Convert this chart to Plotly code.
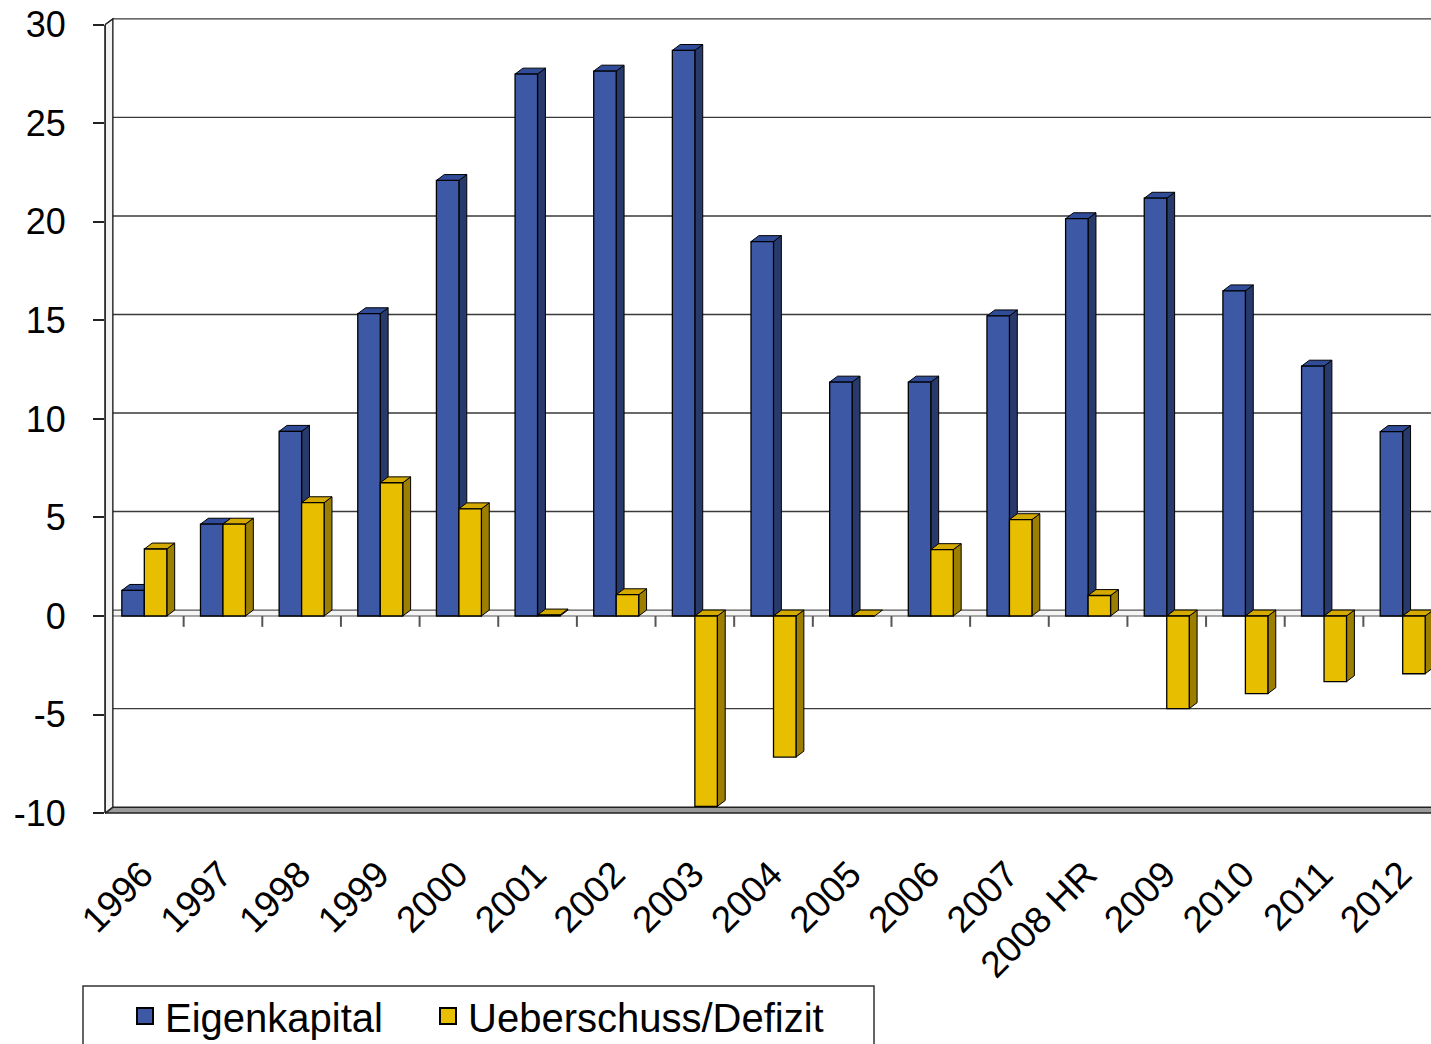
import plotly.graph_objects as go

# ---------------- data ----------------
years = ['1996', '1997', '1998', '1999', '2000', '2001', '2002', '2003', '2004',
         '2005', '2006', '2007', '2008 HR', '2009', '2010', '2011', '2012']
eigenkapital = [1.3, 4.66, 9.37, 15.34, 22.1, 27.5, 27.65, 28.7, 19.0,
                11.87, 11.87, 15.23, 20.16, 21.2, 16.5, 12.68, 9.36]
ueberschuss = [3.4, 4.66, 5.75, 6.76, 5.44, 0.05, 1.08, -9.66, -7.16,
               0.0, 3.37, 4.89, 1.04, -4.7, -3.94, -3.33, -2.93]
y_ticks = [-10, -5, 0, 5, 10, 15, 20, 25, 30]
series_names = ['Eigenkapital', 'Ueberschuss/Defizit']

# ---------------- style ----------------
FONT = 'Arial, "Liberation Sans", sans-serif'
BLUE_FRONT, BLUE_SIDE, BLUE_TOP = '#3D58A5', '#283A6C', '#304C98'
YEL_FRONT, YEL_SIDE, YEL_TOP = '#E8BE00', '#9C7E00', '#D4AA00'
W = 0.286            # bar width (category units)
DX, DY = 0.10, 0.30  # 3-D depth offset (x in category units, y in value units)
XMIN, XMAX = -0.5, 16.36
YMIN, YMAX = -10.2, 30.75
idx = list(range(len(years)))
PLOT_W = 1431 - 105
PLOT_H = 1044 - 10 - 227

fig = go.Figure()

fig.add_trace(go.Bar(x=idx, y=eigenkapital, width=W, offset=-W,
                     marker=dict(color=BLUE_FRONT, line=dict(color='black', width=1.3)),
                     name=series_names[0], showlegend=False))
fig.add_trace(go.Bar(x=idx, y=ueberschuss, width=W, offset=0,
                     marker=dict(color=YEL_FRONT, line=dict(color='black', width=1.3)),
                     name=series_names[1], showlegend=False))

# legend-only entries (bigger square swatches), one legend each
for nm, col, lg in zip(series_names, [BLUE_FRONT, YEL_FRONT], ['legend', 'legend2']):
    fig.add_trace(go.Scatter(x=[None], y=[None], mode='markers', name=nm, legend=lg,
                             marker=dict(symbol='square', size=16, color=col,
                                         line=dict(color='black', width=2))))

shapes = []

# back wall gridlines (with diagonal joint on the left wall)
for v in y_ticks:
    if v in (-10, 0):
        continue
    shapes.append(dict(type='path', xref='x', yref='y', layer='below',
                       path=f'M {XMIN},{v} L {XMIN+DX},{v+DY} L 17.5,{v+DY}',
                       line=dict(color='#3a3a3a', width=1.4)))
# zero plane
shapes.append(dict(type='path', xref='x', yref='y', layer='below',
                   path=f'M {XMIN},0 L 17.5,0 L 17.5,{DY} L {XMIN+DX},{DY} Z',
                   fillcolor='#f4f4f4', line=dict(color='#555555', width=1.2)))
# floor at -10
shapes.append(dict(type='path', xref='x', yref='y', layer='below',
                   path=f'M {XMIN},-10 L 17.5,-10 L 17.5,{-10+DY} L {XMIN+DX},{-10+DY} Z',
                   fillcolor='#9a9a9a', line=dict(color='#222222', width=1.5)))
# left wall
shapes.append(dict(type='path', xref='x', yref='y', layer='below',
                   path=f'M {XMIN},-10 L {XMIN},30 L {XMIN+DX},{30+DY} L {XMIN+DX},{-10+DY} Z',
                   fillcolor='#f2f2f2', line=dict(color='#222222', width=1.4)))


def faces(vals, left_off, side_col, top_col):
    out = []
    for i, v in enumerate(vals):
        x0 = i + left_off
        x1 = x0 + W
        lo, hi = min(0, v), max(0, v)
        if hi > lo:
            out.append(dict(type='path', xref='x', yref='y', layer='between',
                            path=f'M {x1},{lo} L {x1+DX},{lo+DY} L {x1+DX},{hi+DY} L {x1},{hi} Z',
                            fillcolor=side_col, line=dict(color='black', width=1)))
        out.append(dict(type='path', xref='x', yref='y', layer='between',
                        path=f'M {x0},{hi} L {x0+DX},{hi+DY} L {x1+DX},{hi+DY} L {x1},{hi} Z',
                        fillcolor=top_col, line=dict(color='black', width=1)))
    return out


shapes += faces(eigenkapital, -W, BLUE_SIDE, BLUE_TOP)
shapes += faces(ueberschuss, 0, YEL_SIDE, YEL_TOP)

# category boundary ticks on the zero line
for k in range(len(years) - 1):
    shapes.append(dict(type='line', xref='x', yref='y', layer='above',
                       x0=k + 0.5, x1=k + 0.5, y0=0, y1=-0.55,
                       line=dict(color='#555555', width=2)))

# front value-axis line
shapes.append(dict(type='line', xref='paper', yref='y', layer='above',
                   x0=0, x1=0, y0=-10, y1=30, line=dict(color='#222222', width=1.6)))

# legend frame
shapes.append(dict(type='rect', xref='paper', yref='paper', layer='above',
                   x0=(83 - 105) / PLOT_W, x1=(874 - 105) / PLOT_W,
                   y0=(817 - 1060) / PLOT_H, y1=(817 - 986) / PLOT_H,
                   fillcolor='rgba(0,0,0,0)', line=dict(color='#333333', width=1.5)))

legend_common = dict(orientation='h', xanchor='left', yanchor='middle',
                     y=(817 - 1016) / PLOT_H,
                     font=dict(size=40, family=FONT, color='black'),
                     bgcolor='rgba(0,0,0,0)', borderwidth=0,
                     itemclick=False, itemdoubleclick=False)

fig.update_layout(
    width=1431, height=1044,
    margin=dict(l=105, r=0, t=10, b=227, autoexpand=False),
    paper_bgcolor='white', plot_bgcolor='white',
    barmode='overlay',
    font=dict(family=FONT, color='black'),
    shapes=shapes,
    xaxis=dict(range=[XMIN, XMAX], tickvals=idx, ticktext=years, tickangle=-45,
               showgrid=False, zeroline=False, showline=False, ticks='',
               tickfont=dict(size=37, family=FONT, color='black'),
               ticklabelstandoff=27, ticklabelshift=-2, automargin=False),
    yaxis=dict(range=[YMIN, YMAX], tickvals=y_ticks, ticktext=[str(t) for t in y_ticks],
               showgrid=False, zeroline=False, showline=False,
               ticks='outside', ticklen=11, tickwidth=1.6, tickcolor='#222222',
               tickfont=dict(size=36, family=FONT, color='black'),
               ticklabelstandoff=20, automargin=False),
    legend=dict(x=(125 - 105) / PLOT_W, **legend_common),
    legend2=dict(x=(428 - 105) / PLOT_W, **legend_common),
)

fig.write_html('out.html')
